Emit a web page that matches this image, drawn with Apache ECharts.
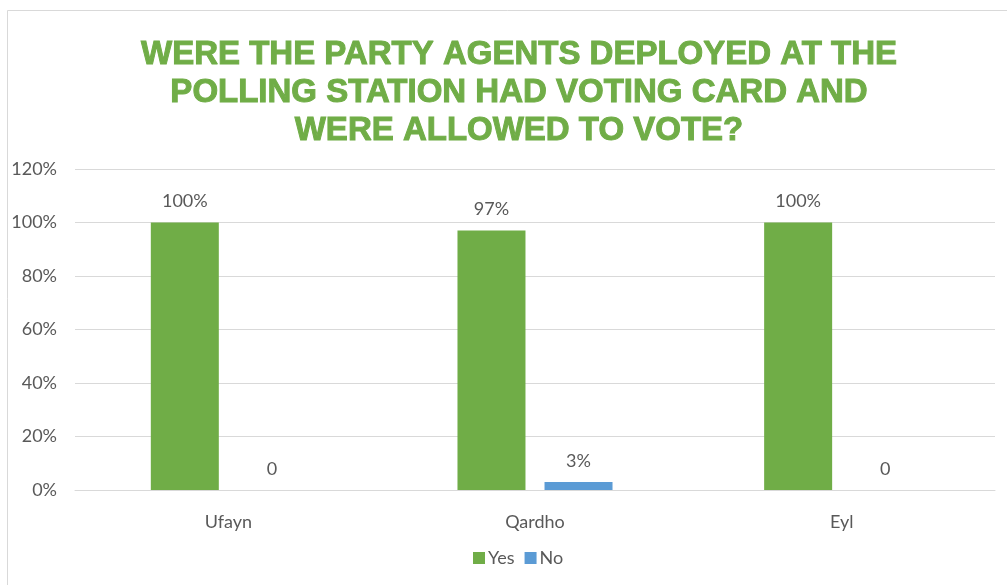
<!DOCTYPE html>
<html>
<head>
<meta charset="utf-8">
<script src="https://cdn.jsdelivr.net/npm/echarts@6/dist/echarts.min.js"></script>
<style>
  html, body { margin: 0; padding: 0; background: #fff; }
  #chart { width: 1007px; height: 585px; }
</style>
</head>
<body>
<div id="chart"></div>
<script>
// Districts and survey answers (percent of respondents)
const categories = ['Ufayn', 'Qardho', 'Eyl'];
const yesValues = [100, 97, 100];
const noValues = [0, 3, 0];
const seriesNames = ['Yes', 'No'];
const titleText = 'WERE THE PARTY AGENTS DEPLOYED AT THE\nPOLLING STATION HAD VOTING CARD AND\nWERE ALLOWED TO VOTE?';

const textColor = '#595959';
const bodyFont = 'Lato, "Open Sans", sans-serif';
const bodySize = 18;

const pctLabel = (p) => (p.value === 0 ? '0' : p.value + '%');

const chart = echarts.init(document.getElementById('chart'));
chart.setOption({
  animation: false,
  backgroundColor: '#fff',
  title: {
    text: titleText,
    left: 514,
    top: 31,
    textAlign: 'center',
    textStyle: {
      color: '#70AD47',
      fontFamily: '"Liberation Sans", Arial, sans-serif',
      fontWeight: 900,
      fontSize: 33,
      lineHeight: 38,
      textBorderColor: '#70AD47',
      textBorderWidth: 1
    }
  },
  graphic: [{
    type: 'rect',
    shape: { x: 7.5, y: 10.5, width: 1010, height: 600 },
    style: { fill: 'none', stroke: '#d9d9d9', lineWidth: 1 },
    silent: true
  }],
  legend: {
    data: seriesNames,
    bottom: 13,
    left: 468,
    itemWidth: 12,
    itemHeight: 12,
    itemGap: 10,
    icon: 'rect',
    textStyle: { color: textColor, fontFamily: bodyFont, fontSize: bodySize, padding: [0, 0, 0, -2] }
  },
  grid: { left: 75, right: 12, top: 169, bottom: 95, containLabel: false },
  xAxis: {
    type: 'category',
    data: categories,
    axisLine: { lineStyle: { color: '#d9d9d9', width: 1 } },
    axisTick: { show: false },
    axisLabel: { color: textColor, fontFamily: bodyFont, fontSize: bodySize, margin: 23 }
  },
  yAxis: {
    type: 'value',
    min: 0,
    max: 120,
    interval: 20,
    axisLine: { show: false },
    axisTick: { show: false },
    splitLine: { lineStyle: { color: '#d9d9d9', width: 1 } },
    axisLabel: {
      color: textColor, fontFamily: bodyFont, fontSize: bodySize, margin: 18,
      formatter: (v) => v + '%'
    }
  },
  series: [
    {
      name: seriesNames[0],
      type: 'bar',
      data: yesValues,
      barWidth: 68,
      barGap: '28%',
      itemStyle: { color: '#70AD47' },
      label: {
        show: true, position: 'top', distance: 12,
        color: textColor, fontFamily: bodyFont, fontSize: bodySize,
        formatter: pctLabel
      }
    },
    {
      name: seriesNames[1],
      type: 'bar',
      data: noValues,
      barWidth: 68,
      itemStyle: { color: '#5B9BD5' },
      label: {
        show: true, position: 'top', distance: 12,
        color: textColor, fontFamily: bodyFont, fontSize: bodySize,
        formatter: pctLabel
      }
    }
  ]
});
</script>
</body>
</html>
